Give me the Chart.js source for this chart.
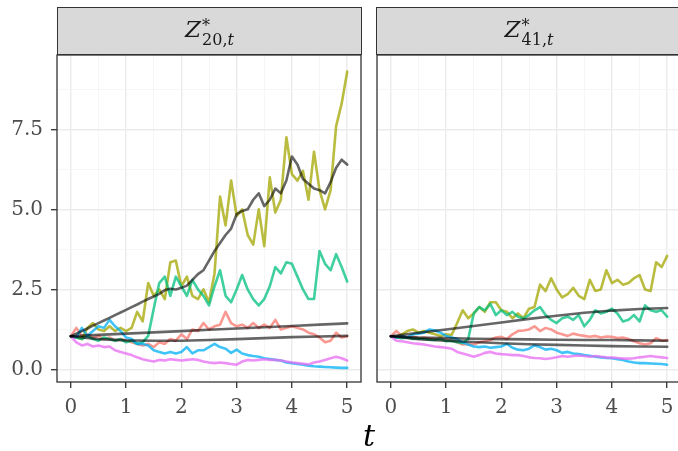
<!DOCTYPE html>
<html><head><meta charset="utf-8">
<script src="https://cdn.jsdelivr.net/npm/chart.js@4.4.1/dist/chart.umd.min.js"></script>
<style>
html,body{margin:0;padding:0;background:#fff;}
#wrap{position:relative;width:678px;height:451px;overflow:hidden;background:#fff;}
canvas{position:absolute;top:0;}
.strip{position:absolute;top:7px;height:48px;background:#D9D9D9;border:1.3px solid #333;box-sizing:border-box;}
.lab{position:absolute;top:6px;left:0;width:100%;text-align:center;font-family:"DejaVu Serif";font-size:23px;color:#1A1A1A;line-height:30px;white-space:nowrap;}
.ss{display:inline-block;vertical-align:-8px;font-size:16px;line-height:14px;text-align:left;margin-left:1px;}
.ss span{display:block;}
#xt{position:absolute;left:349px;width:40px;top:418px;text-align:center;font-family:"DejaVu Serif";font-style:italic;font-size:30px;color:#000;}
</style></head>
<body><div id="wrap">
<canvas id="c1" width="362" height="451" style="left:0px;width:362px;height:451px"></canvas>
<canvas id="c2" width="320" height="451" style="left:362px;width:320px;height:451px"></canvas>
<div class="strip" style="left:57px;width:305px"><div class="lab"><i>Z</i><span class="ss"><span>*</span><span>20,<i>t</i></span></span></div></div>
<div class="strip" style="left:376px;width:306px"><div class="lab"><i>Z</i><span class="ss"><span>*</span><span>41,<i>t</i></span></span></div></div>
<div id="xt">t</div>
</div>
<script>
// time points
const tFine = [0,0.1,0.2,0.3,0.4,0.5,0.6,0.7,0.8,0.9,1,1.1,1.2,1.3,1.4,1.5,1.6,1.7,1.8,1.9,2,2.1,2.2,2.3,2.4,2.5,2.6,2.7,2.8,2.9,3,3.1,3.2,3.3,3.4,3.5,3.6,3.7,3.8,3.9,4,4.1,4.2,4.3,4.4,4.5,4.6,4.7,4.8,4.9,5];
const tCoarse = [0,0.5,1,1.5,2,2.5,3,3.5,4,4.5,5];
const xTickLabels = [0,1,2,3,4,5];
const yTickLabels = ["0.0","2.5","5.0","7.5"];
const yTickValues = [0,2.5,5,7.5];
const stripTitles = ["Z*20,t","Z*41,t"];

// ---- panel Z*_{20,t} ----
const L_salmon = [1.04,1.3,1.05,1.1,1.0,1.05,0.95,1.0,0.9,0.95,0.9,0.85,0.8,0.75,0.8,0.7,0.85,0.8,0.95,0.9,1.1,0.95,1.25,1.2,1.45,1.25,1.35,1.4,1.8,1.45,1.35,1.4,1.3,1.45,1.3,1.4,1.3,1.55,1.25,1.3,1.35,1.3,1.25,1.15,1.1,1.0,0.85,0.9,1.15,1.0,1.04];
const L_olive = [1.04,1.0,0.95,1.3,1.45,1.25,1.2,1.35,1.2,1.3,1.2,1.3,1.8,1.5,2.7,2.3,2.5,2.2,3.35,3.4,2.6,2.9,2.3,2.2,2.5,2.1,3.0,5.4,4.5,5.9,4.8,5.0,4.2,3.9,5.0,3.85,6.0,4.9,5.3,7.25,6.1,5.9,6.2,5.3,6.8,5.6,5.0,5.6,7.6,8.3,9.3];
const L_green = [1.04,1.0,0.95,1.05,0.95,0.9,1.0,0.95,0.9,0.95,0.85,0.9,0.8,0.85,1.05,1.9,2.7,2.9,2.3,2.9,2.6,2.3,2.8,2.5,2.3,2.0,2.6,3.1,2.3,2.1,2.5,2.95,2.5,2.2,2.0,2.2,2.6,3.2,3.0,3.35,3.3,2.9,2.5,2.2,2.2,3.7,3.3,3.1,3.6,3.2,2.75];
const L_blue = [1.04,1.0,1.3,1.05,1.2,1.35,1.3,1.55,1.35,1.2,1.0,0.95,0.8,0.8,0.75,0.6,0.55,0.5,0.55,0.5,0.55,0.7,0.5,0.6,0.6,0.7,0.8,0.7,0.65,0.52,0.62,0.5,0.45,0.42,0.4,0.35,0.33,0.3,0.28,0.22,0.2,0.17,0.15,0.12,0.1,0.09,0.08,0.07,0.06,0.05,0.05];
const L_magenta = [1.04,0.85,0.75,0.8,0.72,0.75,0.7,0.72,0.6,0.55,0.5,0.45,0.38,0.32,0.28,0.25,0.3,0.28,0.32,0.3,0.28,0.3,0.32,0.3,0.25,0.22,0.2,0.22,0.2,0.17,0.15,0.25,0.3,0.28,0.3,0.32,0.3,0.3,0.28,0.25,0.22,0.2,0.18,0.16,0.22,0.25,0.3,0.35,0.4,0.35,0.28];
const L_blackPath = [1.04,1.12,1.2,1.28,1.37,1.45,1.53,1.61,1.7,1.78,1.86,1.95,2.03,2.12,2.2,2.28,2.36,2.48,2.52,2.5,2.55,2.62,2.8,2.98,3.1,3.4,3.7,3.95,4.2,4.4,4.85,4.95,5.0,5.3,5.5,5.1,5.3,5.65,5.5,5.9,6.65,6.4,5.95,5.8,5.65,5.6,5.5,5.85,6.3,6.55,6.4];
const L_blackUpper = [1.04,1.08,1.12,1.16,1.2,1.24,1.28,1.32,1.36,1.4,1.44];
const L_blackLower = [1.04,0.95,0.91,0.9,0.9,0.92,0.95,0.98,1.01,1.03,1.05];

// ---- panel Z*_{41,t} ----
const R_salmon = [1.04,1.2,1.05,1.0,1.02,0.98,1.0,0.97,0.95,0.97,0.93,0.9,0.85,0.78,0.8,0.78,0.85,0.88,0.92,1.0,1.02,0.95,1.1,1.2,1.22,1.25,1.35,1.2,1.3,1.25,1.15,1.1,1.05,1.12,1.08,1.05,1.02,1.05,1.0,1.03,1.02,0.98,1.0,0.95,0.88,0.82,0.78,0.82,0.98,0.9,0.92];
const R_olive = [1.04,1.0,1.1,1.2,1.25,1.15,1.2,1.15,1.1,1.05,1.1,1.08,1.45,1.85,1.6,1.75,1.95,1.8,2.1,2.1,1.85,1.8,1.6,1.75,1.6,1.9,1.95,2.65,2.45,2.85,2.5,2.25,2.35,2.55,2.3,2.2,2.8,2.45,2.5,3.1,2.7,2.8,2.65,2.7,2.85,2.95,2.5,2.45,3.35,3.2,3.55];
const R_green = [1.04,1.0,0.98,1.0,0.95,0.97,0.95,0.93,0.92,0.95,0.88,0.9,0.85,0.82,0.95,1.75,1.95,1.85,2.05,1.7,1.85,1.7,1.8,1.65,1.6,1.7,1.85,1.95,1.7,1.55,1.45,1.6,1.65,1.55,1.7,1.35,1.55,1.85,1.75,1.8,1.9,1.75,1.5,1.55,1.7,1.5,2.0,1.85,1.8,1.85,1.65];
const R_blue = [1.04,1.0,1.05,1.0,1.1,1.12,1.15,1.25,1.22,1.15,1.05,1.0,0.95,0.85,0.78,0.72,0.7,0.72,0.68,0.7,0.72,0.8,0.68,0.62,0.6,0.65,0.75,0.7,0.62,0.65,0.6,0.52,0.55,0.5,0.48,0.45,0.43,0.4,0.38,0.36,0.35,0.32,0.3,0.25,0.22,0.2,0.2,0.19,0.18,0.17,0.15];
const R_magenta = [1.04,0.9,0.88,0.85,0.82,0.8,0.78,0.75,0.72,0.7,0.68,0.65,0.55,0.5,0.45,0.4,0.45,0.52,0.55,0.5,0.48,0.47,0.45,0.45,0.42,0.38,0.36,0.35,0.33,0.35,0.38,0.42,0.4,0.42,0.44,0.42,0.4,0.42,0.4,0.38,0.37,0.36,0.34,0.34,0.35,0.38,0.4,0.42,0.4,0.38,0.36];
const R_blackUpper = [1.04,1.15,1.25,1.36,1.47,1.58,1.68,1.77,1.84,1.89,1.92];
const R_blackMiddle = [1.04,1.0,0.98,0.96,0.95,0.94,0.93,0.92,0.92,0.91,0.9];
const R_blackLower = [1.04,0.95,0.9,0.86,0.82,0.79,0.77,0.75,0.73,0.72,0.71];

const COL = {
  salmon:'rgba(248,118,109,0.75)', olive:'rgba(163,165,0,0.75)', green:'rgba(0,191,125,0.75)',
  blue:'rgba(0,176,246,0.75)', magenta:'rgba(231,107,243,0.75)', black:'rgba(0,0,0,0.6)'
};

function xy(ts, vs){ return ts.map((x,i)=>({x:x,y:vs[i]})); }
function ds(ts, vs, color){
  return {data:xy(ts,vs), borderColor:color, borderWidth:2.6, pointRadius:0, fill:false, tension:0, borderJoinStyle:'round', borderCapStyle:'round'};
}

const xGridVals = [0,0.5,1,1.5,2,2.5,3,3.5,4,4.5,5];
const yGridVals = [0,1.25,2.5,3.75,5,6.25,7.5,8.75];

const borderPlugin = {
  id:'panelBorder',
  afterDraw(chart){
    const a = chart.chartArea, c = chart.ctx;
    c.save(); c.strokeStyle='#333333'; c.lineWidth=1.3;
    c.strokeRect(a.left, a.top, a.right-a.left, a.bottom-a.top);
    c.restore();
  }
};

function isMajorX(v){ return xTickLabels.indexOf(v) >= 0; }
function isMajorY(v){ return yTickValues.indexOf(v) >= 0; }

function makeChart(id, datasets, showY, yWidth, rightPad){
  return new Chart(document.getElementById(id), {
    type:'line',
    data:{datasets:datasets},
    options:{
      responsive:false, animation:false, devicePixelRatio:1,
      layout:{padding:{top:55,left:0,right:rightPad,bottom:0}},
      plugins:{legend:{display:false}, tooltip:{enabled:false}},
      scales:{
        x:{type:'linear', min:-0.25, max:5.25,
          afterBuildTicks:s=>{ s.ticks = xGridVals.map(v=>({value:v})); },
          afterFit:s=>{ s.height = 69; },
          ticks:{autoSkip:false, maxRotation:0, padding:8, color:'#4D4D4D',
            font:{family:'DejaVu Serif', size:20},
            callback:(v)=> isMajorX(v) ? String(v) : ''},
          grid:{color:c=> isMajorX(c.tick.value)?'#EBEBEB':'#F4F4F4',
            lineWidth:c=> isMajorX(c.tick.value)?1.4:0.8,
            tickColor:c=> isMajorX(c.tick.value)?'#333333':'rgba(0,0,0,0)',
            tickLength:6, tickWidth:1.3},
          border:{display:false}
        },
        y:{type:'linear', min:-0.39, max:9.82,
          afterBuildTicks:s=>{ s.ticks = yGridVals.map(v=>({value:v})); },
          afterFit:s=>{ s.width = yWidth; },
          ticks:{display:showY, autoSkip:false, padding:8, color:'#4D4D4D',
            font:{family:'DejaVu Serif', size:20},
            callback:(v)=>{ const k = yTickValues.indexOf(v); return k>=0 ? yTickLabels[k] : ''; }},
          grid:{color:c=> isMajorY(c.tick.value)?'#EBEBEB':'#F4F4F4',
            lineWidth:c=> isMajorY(c.tick.value)?1.4:0.8,
            drawTicks:showY,
            tickColor:c=> isMajorY(c.tick.value)?'#333333':'rgba(0,0,0,0)',
            tickLength:6, tickWidth:1.3},
          border:{display:false}
        }
      }
    },
    plugins:[borderPlugin]
  });
}

makeChart('c1', [
  ds(tFine, L_blackPath, COL.black),
  ds(tCoarse, L_blackUpper, COL.black),
  ds(tCoarse, L_blackLower, COL.black),
  ds(tFine, L_magenta, COL.magenta),
  ds(tFine, L_blue, COL.blue),
  ds(tFine, L_green, COL.green),
  ds(tFine, L_olive, COL.olive),
  ds(tFine, L_salmon, COL.salmon)
], true, 57, 1);

makeChart('c2', [
  ds(tCoarse, R_blackUpper, COL.black),
  ds(tCoarse, R_blackMiddle, COL.black),
  ds(tCoarse, R_blackLower, COL.black),
  ds(tFine, R_magenta, COL.magenta),
  ds(tFine, R_blue, COL.blue),
  ds(tFine, R_green, COL.green),
  ds(tFine, R_olive, COL.olive),
  ds(tFine, R_salmon, COL.salmon)
], false, 15, 1);
</script>
</body></html>
